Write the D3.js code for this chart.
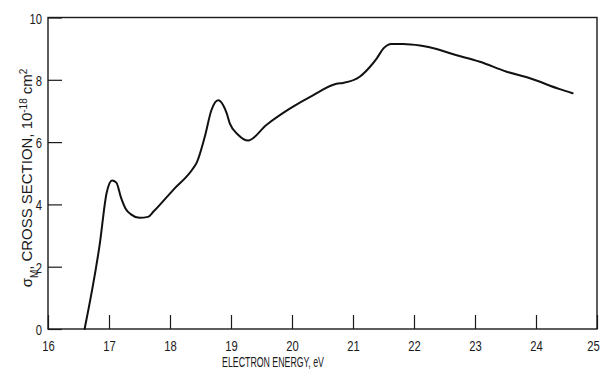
<!DOCTYPE html>
<html>
<head>
<meta charset="utf-8">
<script src="https://cdn.jsdelivr.net/npm/d3@7/dist/d3.min.js"></script>
<style>
  html, body { margin: 0; padding: 0; background: #fff; }
  svg { display: block; }
  text { font-family: "Liberation Sans", Arial, sans-serif; fill: #1a1a1a; }
</style>
</head>
<body>
<svg id="chart" width="602" height="373"></svg>
<script>
// ---- data ----
const energy = [16.6, 16.85, 16.96, 17.05, 17.12, 17.2, 17.27, 17.36, 17.5, 17.64, 17.73, 18.05, 18.38, 18.44,
                18.57, 18.68, 18.79, 18.87, 18.93, 18.98, 19.12, 19.28, 19.58, 19.97, 20.35, 20.73, 20.84, 21.11,
                21.28, 21.39, 21.5, 21.63, 21.82, 22.1, 22.37, 22.59, 23.08, 23.52, 23.9, 24.39, 24.6];
const crossSection = [0, 2.75, 4.36, 4.77, 4.7, 4.2, 3.87, 3.68, 3.57, 3.6, 3.77, 4.46, 5.16, 5.35,
                6.17, 7.03, 7.34, 7.19, 6.92, 6.6, 6.23, 6.05, 6.55, 7.08, 7.51, 7.87, 7.9, 8.1,
                8.42, 8.69, 9.01, 9.15, 9.15, 9.1, 8.99, 8.85, 8.58, 8.26, 8.05, 7.7, 7.57];
const xTicks = [16, 17, 18, 19, 20, 21, 22, 23, 24, 25];
const yTicks = [0, 2, 4, 6, 8, 10];
const xTitle = "ELECTRON ENERGY, eV";

(function () {
// ---- layout ----
const mLeft = 48, mRight = 597, mTop = 17.5, mBottom = 329;
const svg = d3.select("#chart");
const x = d3.scaleLinear().domain([16, 25]).range([mLeft, mRight]);
const y = d3.scaleLinear().domain([0, 10]).range([mBottom, mTop]);
const ink = "#1a1a1a";

// frame
svg.append("rect").attr("x", mLeft).attr("y", mTop)
  .attr("width", mRight - mLeft).attr("height", mBottom - mTop)
  .attr("fill", "none").attr("stroke", ink).attr("stroke-width", 1.4);

// x axis (ticks inward)
const xAxis = d3.axisBottom(x).tickValues(xTicks).tickSizeInner(-14).tickSizeOuter(0).tickPadding(0)
  .tickFormat(d3.format("d"));
const gx = svg.append("g").attr("transform", `translate(0,${mBottom})`).call(xAxis);
gx.select(".domain").remove();
gx.selectAll(".tick line").attr("stroke", ink).attr("stroke-width", 1.2);
gx.selectAll(".tick text").attr("y", 0).attr("dy", 0)
  .attr("transform", d => `translate(${d === xTicks[xTicks.length - 1] ? -4 : 0},22) scale(0.75,1)`)
  .style("font-size", "15px").attr("fill", ink);

// y axis (ticks inward)
const yAxis = d3.axisLeft(y).tickValues(yTicks).tickSizeInner(-14).tickSizeOuter(0).tickPadding(0)
  .tickFormat(d3.format("d"));
const gy = svg.append("g").attr("transform", `translate(${mLeft},0)`).call(yAxis);
gy.select(".domain").remove();
gy.selectAll(".tick line").attr("stroke", ink).attr("stroke-width", 1.2);
gy.selectAll(".tick text").attr("x", 0).attr("dy", 0)
  .attr("transform", "translate(-6,5.5) scale(0.75,1)")
  .style("font-size", "15px").attr("fill", ink);

// curve
const pts = energy.map((e, i) => [e, crossSection[i]]);
svg.append("path").datum(pts)
  .attr("fill", "none").attr("stroke", "#111").attr("stroke-width", 2)
  .attr("stroke-linejoin", "round").attr("stroke-linecap", "round")
  .attr("d", d3.line().x(d => x(d[0])).y(d => y(d[1])).curve(d3.curveMonotoneX));

// helper: condense text to a target width
function fit(sel, cx, cy, rot, target) {
  const len = sel.node().getComputedTextLength();
  const s = target / len;
  sel.attr("transform", `translate(${cx},${cy}) rotate(${rot}) scale(${s},1)`);
}

// x title
const xt = svg.append("text").attr("text-anchor", "middle").style("font-size", "15px").text(xTitle);
fit(xt, 273, 367, 0, 102);

// y title with sub/superscripts
const yt = svg.append("text").attr("text-anchor", "middle").style("font-size", "15px");
yt.append("tspan").text("σ");
yt.append("tspan").attr("baseline-shift", "sub").style("font-size", "10px").text("M");
yt.append("tspan").text(", CROSS SECTION, 10");
yt.append("tspan").attr("baseline-shift", "super").style("font-size", "10px").text("-18");
yt.append("tspan").text(" cm");
yt.append("tspan").attr("baseline-shift", "super").style("font-size", "10px").text("2");
fit(yt, 32, 178, -90, 219);
})();
</script>
</body>
</html>
